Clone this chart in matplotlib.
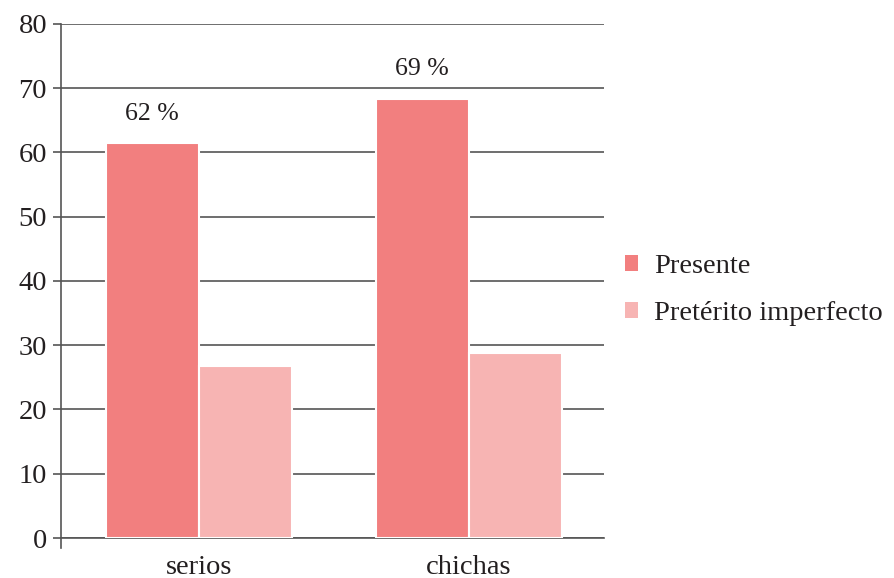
import numpy as np
import matplotlib
matplotlib.use("Agg")
from matplotlib import pyplot as plt
from matplotlib.patches import Patch

categories = ["serios", "chichas"]
presente = [61.5, 68.4]
preterito = [26.8, 28.8]
pct_labels = ["62 %", "69 %"]
series_names = ["Presente", "Pretérito imperfecto"]
colors = ["#F27F7F", "#F7B4B3"]

plt.rcParams["font.family"] = ["Liberation Serif", "DejaVu Serif"]
text_color = "#231F20"
grid_color = "#555555"

fig = plt.figure(figsize=(8.94, 5.78), dpi=100)
ax = fig.add_axes([0.0682, 0.0692, 0.6074, 0.8893])

x = np.arange(len(categories))
w = 0.345
ax.bar(x - w / 2, presente, w, color=colors[0], edgecolor="white", linewidth=1.5, zorder=3)
ax.bar(x + w / 2, preterito, w, color=colors[1], edgecolor="white", linewidth=1.5, zorder=3)

for xi, v, lab in zip(x, presente, pct_labels):
    ax.annotate(lab, (xi - w / 2, v), xytext=(0, 13), textcoords="offset points",
                ha="center", va="bottom", fontsize=18.5, color=text_color)

ax.set_ylim(0, 80)
ax.set_xlim(-0.51, 1.5)
ax.set_yticks(range(0, 81, 10))
ax.set_xticks(x)
ax.set_xticklabels(categories)
ax.yaxis.grid(True, color=grid_color, linewidth=1.2, zorder=0)
ax.set_axisbelow(True)

for s in ["top", "right"]:
    ax.spines[s].set_visible(False)
ax.spines["left"].set_color(grid_color)
ax.spines["left"].set_linewidth(1.2)
ax.spines["left"].set_bounds(-1.5, 80)
ax.spines["bottom"].set_color(grid_color)
ax.spines["bottom"].set_linewidth(1.2)
ax.tick_params(axis="y", length=6, width=1.2, color=grid_color, labelsize=20.5,
               labelcolor=text_color, pad=4)
ax.tick_params(axis="x", length=0, labelsize=20.5, labelcolor=text_color, pad=12)

handles = [Patch(facecolor=c, edgecolor="none") for c in colors]
fig.legend(handles, series_names, loc="center left", bbox_to_anchor=(0.699, 0.498),
           frameon=False, fontsize=20.5, handlelength=0.47, handleheight=0.47,
           handletextpad=0.55, labelspacing=0.78, labelcolor=text_color,
           borderaxespad=0, borderpad=0)

fig.savefig("out.png", dpi=100)
